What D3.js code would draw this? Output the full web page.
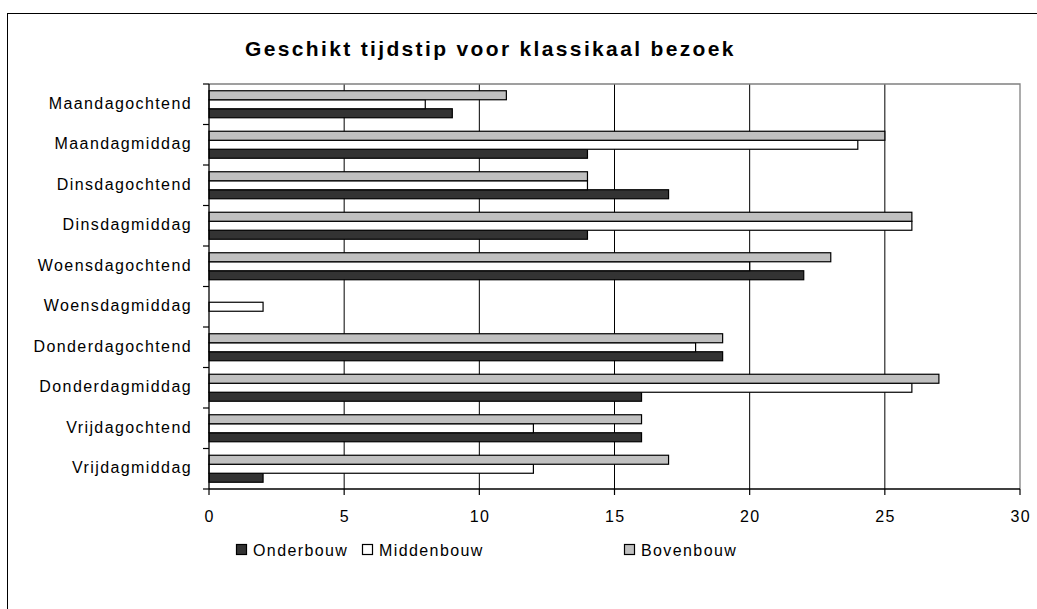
<!DOCTYPE html>
<html>
<head>
<meta charset="utf-8">
<script src="https://cdn.jsdelivr.net/npm/d3@7"></script>
<style>
  html, body { margin: 0; padding: 0; background: #fff; }
  svg { display: block; }
  text { font-family: "Liberation Sans", Arial, sans-serif; fill: #000; }
</style>
</head>
<body>
<svg id="chart" width="1037" height="609"></svg>
<script>
const title = "Geschikt tijdstip voor klassikaal bezoek";
const categories = ["Maandagochtend", "Maandagmiddag", "Dinsdagochtend", "Dinsdagmiddag",
  "Woensdagochtend", "Woensdagmiddag", "Donderdagochtend", "Donderdagmiddag",
  "Vrijdagochtend", "Vrijdagmiddag"];
const seriesNames = ["Onderbouw", "Middenbouw", "Bovenbouw"];
const onderbouw  = [9, 14, 17, 14, 22, 0, 19, 16, 16, 2];
const middenbouw = [8, 24, 14, 26, 20, 2, 18, 26, 12, 12];
const bovenbouw  = [11, 25, 14, 26, 23, 0, 19, 27, 16, 17];
const xTicks = [0, 5, 10, 15, 20, 25, 30];
const seriesColors = ["#333333", "#ffffff", "#c0c0c0"];

const seriesValues = [onderbouw, middenbouw, bovenbouw];
const svg = d3.select("#chart");

// outer chart border (extends beyond the view on right/bottom)
svg.append("rect")
  .attr("x", 7.5).attr("y", 13.5).attr("width", 1100).attr("height", 700)
  .attr("fill", "none").attr("stroke", "#000").attr("stroke-width", 1);

const plot = { left: 209, right: 1020, top: 84, bottom: 489 };

const x = d3.scaleLinear().domain([0, 30]).range([plot.left, plot.right]);
const y = d3.scaleBand().domain(categories).range([plot.top, plot.bottom])
  .paddingInner(1 / 3).paddingOuter(1 / 6);
// top-to-bottom order inside each category: Bovenbouw, Middenbouw, Onderbouw
const sub = d3.scaleBand().domain(["Bovenbouw", "Middenbouw", "Onderbouw"])
  .range([0, y.bandwidth()]);

// vertical gridlines
svg.append("g").selectAll("line")
  .data(xTicks.filter(t => t > 0 && t < 30))
  .join("line")
  .attr("x1", d => x(d)).attr("x2", d => x(d))
  .attr("y1", plot.top).attr("y2", plot.bottom)
  .attr("stroke", "#000").attr("stroke-width", 1);

// plot border top/right (gray)
svg.append("path")
  .attr("d", `M${plot.left},${plot.top}H${plot.right}V${plot.bottom}`)
  .attr("fill", "none").attr("stroke", "#808080").attr("stroke-width", 1.3);

// bars
const rows = [];
categories.forEach((c, i) => {
  seriesNames.forEach((s, j) => {
    rows.push({ cat: c, series: s, value: seriesValues[j][i], color: seriesColors[j] });
  });
});
svg.append("g").selectAll("rect")
  .data(rows.filter(d => d.value > 0))
  .join("rect")
  .attr("x", x(0))
  .attr("y", d => y(d.cat) + sub(d.series))
  .attr("width", d => x(d.value) - x(0))
  .attr("height", sub.bandwidth())
  .attr("fill", d => d.color)
  .attr("stroke", "#000")
  .attr("stroke-width", 1.2);

// y axis line + ticks at category boundaries
const step = y.step();
const yBounds = d3.range(categories.length + 1).map(i => plot.top + i * step);
svg.append("line")
  .attr("x1", plot.left).attr("x2", plot.left)
  .attr("y1", plot.top).attr("y2", plot.bottom)
  .attr("stroke", "#000").attr("stroke-width", 1.3);
svg.append("g").selectAll("line")
  .data(yBounds).join("line")
  .attr("x1", plot.left - 6).attr("x2", plot.left)
  .attr("y1", d => d).attr("y2", d => d)
  .attr("stroke", "#000").attr("stroke-width", 1.2);

// category labels
svg.append("g").selectAll("text")
  .data(categories).join("text")
  .attr("x", 192)
  .attr("y", d => y(d) + y.bandwidth() / 2 + 4.5)
  .attr("text-anchor", "end")
  .attr("font-size", 16)
  .attr("letter-spacing", 1.4)
  .text(d => d);

// x axis
svg.append("line")
  .attr("x1", plot.left).attr("x2", plot.right)
  .attr("y1", plot.bottom).attr("y2", plot.bottom)
  .attr("stroke", "#000").attr("stroke-width", 1.3);
svg.append("g").selectAll("line")
  .data(xTicks).join("line")
  .attr("x1", d => x(d)).attr("x2", d => x(d))
  .attr("y1", plot.bottom).attr("y2", plot.bottom + 6)
  .attr("stroke", "#000").attr("stroke-width", 1.2);
svg.append("g").selectAll("text")
  .data(xTicks).join("text")
  .attr("x", d => x(d) + 0.7)
  .attr("y", 522)
  .attr("text-anchor", "middle")
  .attr("font-size", 16)
  .attr("letter-spacing", 1.4)
  .text(d => d);

// title
svg.append("text")
  .attr("x", 245).attr("y", 56)
  .attr("font-size", 21)
  .attr("font-weight", "bold")
  .attr("letter-spacing", 2.35)
  .text(title);

// legend
const legendX = [236, 362, 624];
const lg = svg.append("g").selectAll("g")
  .data(seriesNames).join("g")
  .attr("transform", (d, i) => `translate(${legendX[i]},544)`);
lg.append("rect")
  .attr("x", 0.5).attr("y", 0.5).attr("width", 10).attr("height", 10)
  .attr("fill", (d, i) => seriesColors[i])
  .attr("stroke", "#000").attr("stroke-width", 1.2);
lg.append("text")
  .attr("x", 17).attr("y", 11.5)
  .attr("font-size", 16)
  .attr("letter-spacing", 1.4)
  .text(d => d);
</script>
</body>
</html>
